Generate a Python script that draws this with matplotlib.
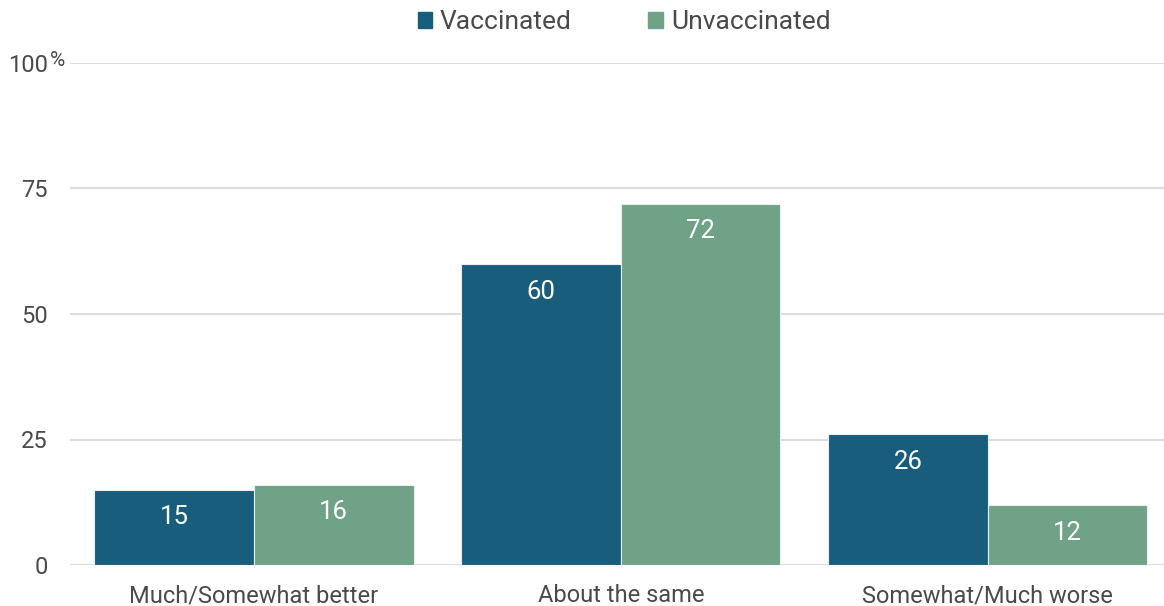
import numpy as np
import matplotlib.pyplot as plt
from matplotlib.patches import Patch

# Data
categories = ['Much/Somewhat better', 'About the same', 'Somewhat/Much worse']
vaccinated = [15, 60, 26]
unvaccinated = [16, 72, 12]
series_names = ['Vaccinated', 'Unvaccinated']
y_ticks = [0, 25, 50, 75, 100]
y_tick_labels = ['0', '25', '50', '75', '100']

col_vax = '#185e7c'
col_unvax = '#70a288'
text_col = '#4a4a4a'

plt.rcParams['font.family'] = ['Roboto', 'DejaVu Sans']

fig = plt.figure(figsize=(11.64, 6.06), dpi=100)
ax = fig.add_axes([70 / 1164, 1 - 565 / 606, 1 - 70 / 1164, (565 - 63) / 606])

x = np.arange(len(categories))
w = 0.435
b1 = ax.bar(x - w / 2, vaccinated, w, color=col_vax, edgecolor='#e8eef0', linewidth=0.8, zorder=3)
b2 = ax.bar(x + w / 2, unvaccinated, w, color=col_unvax, edgecolor='#e8f0ec', linewidth=0.8, zorder=3)

for bars in (b1, b2):
    for rect in bars:
        h = rect.get_height()
        ax.annotate(f'{h:g}', (rect.get_x() + rect.get_width() / 2, h),
                    xytext=(0, -20), textcoords='offset points',
                    ha='center', va='center', color='white', fontsize=18.5, zorder=4)

ax.set_xlim(-0.501, 2.48)
ax.set_ylim(0, 100)
ax.set_yticks(y_ticks)
ax.set_yticklabels(y_tick_labels)
ax.set_xticks(x)
ax.set_xticklabels(categories)
ax.tick_params(axis='both', length=0, labelsize=17, colors=text_col)
ax.tick_params(axis='y', pad=16)
ax.tick_params(axis='x', pad=14)
ax.grid(axis='y', color='#dcdcdc', linewidth=1.5, zorder=0)
for s in ax.spines.values():
    s.set_visible(False)

# percent sign after the top label
fig.text(50 / 1164, 1 - 60 / 606, '%', ha='left', va='center', fontsize=15, color=text_col)

handles = [Patch(color=col_vax), Patch(color=col_unvax)]
fig.legend(handles, series_names, loc='center', bbox_to_anchor=(624 / 1164, 1 - 22 / 606),
           ncol=2, frameon=False, fontsize=19, handlelength=0.55, handleheight=0.55,
           handletextpad=0.3, columnspacing=2.9, labelcolor=text_col)

fig.savefig('out.png', dpi=100)
